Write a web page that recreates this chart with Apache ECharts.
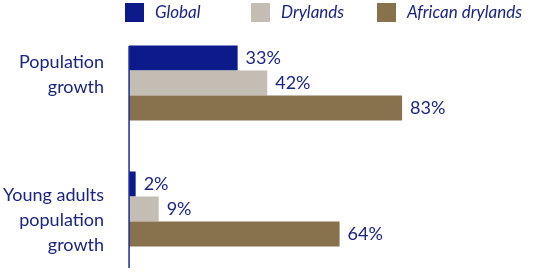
<!DOCTYPE html>
<html>
<head>
<meta charset="utf-8">
<script src="https://cdn.jsdelivr.net/npm/echarts@6/dist/echarts.min.js"></script>
<style>
  html, body { margin: 0; padding: 0; background: #fff; }
  #chart { width: 536px; height: 272px; }
</style>
</head>
<body>
<div id="chart"></div>
<script>
// data
const categories = ['Population\ngrowth', 'Young adults\npopulation\ngrowth']
const seriesNames = ['Global', 'Drylands', 'African drylands']
const globalValues = [33, 2]
const drylandsValues = [42, 9]
const africanValues = [83, 64]

const colors = ['#0d1a8a', '#c4bdb3', '#88724e']
const textColor = '#1b2580'
const font = 'Lato'

const chart = echarts.init(document.getElementById('chart'))

const makeSeries = (name, values, color) => ({
  name,
  type: 'bar',
  data: values,
  barWidth: 25,
  barGap: '0%',
  itemStyle: { color },
  label: {
    show: true,
    position: 'right',
    distance: 8,
    formatter: '{c}%',
    color: textColor,
    fontFamily: font,
    fontSize: 18,
  },
})

// one legend per item so the items sit at even spacing
const legendLefts = [125, 251, 377]
const legends = seriesNames.map((name, i) => ({
  left: legendLefts[i],
  top: 3,
  padding: 0,
  itemWidth: 19,
  itemHeight: 19,
  icon: 'rect',
  data: [name],
  textStyle: {
    color: textColor,
    fontFamily: font,
    fontStyle: 'italic',
    fontSize: 17,
    padding: [0, 0, 0, 6],
  },
}))

const option = {
  animation: false,
  color: colors,
  legend: legends,
  grid: {
    left: 128,
    width: 330,
    top: 20,
    height: 256,
  },
  xAxis: {
    type: 'value',
    min: 0,
    max: 100,
    show: false,
  },
  yAxis: {
    type: 'category',
    inverse: true,
    data: categories,
    axisLine: { show: false },
    axisTick: { show: false },
    axisLabel: {
      margin: 25,
      color: textColor,
      fontFamily: font,
      fontSize: 18,
      lineHeight: 25,
      align: 'right',
      // nudge labels off the band centre like the original
      formatter: (value, idx) => idx === 0 ? value + '\n{sp| }' : '{sp2| }\n' + value,
      rich: {
        sp: { lineHeight: 17, fontSize: 18 },
        sp2: { lineHeight: 22, fontSize: 18 },
      },
    },
  },
  series: [
    makeSeries(seriesNames[0], globalValues, colors[0]),
    makeSeries(seriesNames[1], drylandsValues, colors[1]),
    makeSeries(seriesNames[2], africanValues, colors[2]),
  ],
}

chart.setOption(option)

// vertical axis line, drawn shorter than the grid like the original
const x0 = chart.convertToPixel({ xAxisIndex: 0 }, 0)
chart.setOption({
  graphic: [{
    type: 'line',
    shape: { x1: x0, y1: 46, x2: x0, y2: 268 },
    style: { stroke: '#1a2a9a', lineWidth: 1.5 },
    z: 10,
  }],
})
</script>
</body>
</html>
